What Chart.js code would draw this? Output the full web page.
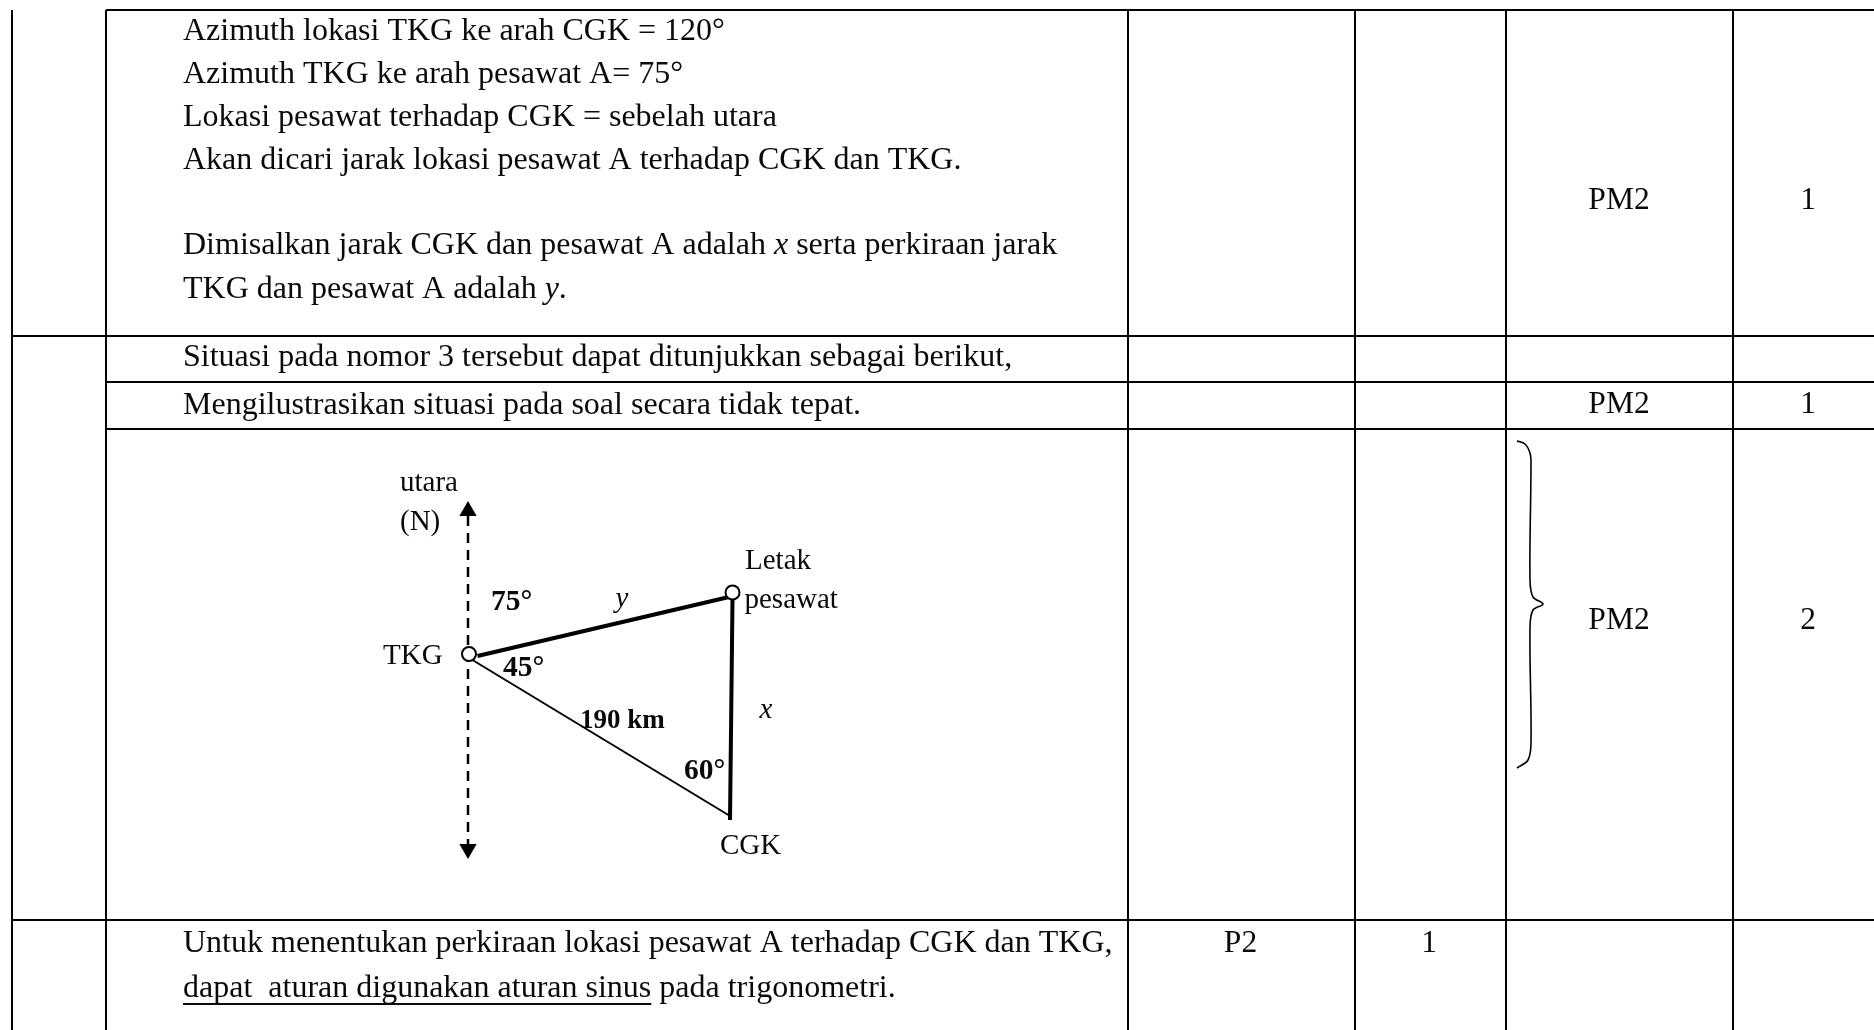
<!DOCTYPE html>
<html>
<head>
<meta charset="utf-8">
<style>html,body{margin:0;padding:0;background:#fff}canvas{display:block}</style>
<script src="https://cdn.jsdelivr.net/npm/chart.js@4/dist/chart.umd.min.js"></script>
</head>
<body>
<canvas id="c" width="1874" height="1030"></canvas>
<script>
// Table rules
const ruleColumns = [12, 106, 1128, 1355, 1506, 1733];
const ruleRows = [10, 336, 382, 429, 920];
// Body text (runs between underscores are italic, between ~ are underlined)
const bodyTexts = [
  "Azimuth lokasi TKG ke arah CGK = 120°",
  "Azimuth TKG ke arah pesawat A= 75°",
  "Lokasi pesawat terhadap CGK = sebelah utara",
  "Akan dicari jarak lokasi pesawat A terhadap CGK dan TKG.",
  "Dimisalkan jarak CGK dan pesawat A adalah _x_ serta perkiraan jarak",
  "TKG dan pesawat A adalah _y_.",
  "Situasi pada nomor 3 tersebut dapat ditunjukkan sebagai berikut,",
  "Mengilustrasikan situasi pada soal secara tidak tepat.",
  "Untuk menentukan perkiraan lokasi pesawat A terhadap CGK dan TKG,",
  "~dapat  aturan digunakan aturan sinus~ pada trigonometri."
];
const bodyBaselines = [40, 83, 126, 169, 254, 298, 366, 414, 952, 997];
const bodyLeft = 183;
// Score columns
const scoreTexts = ["PM2", "1", "PM2", "1", "PM2", "2", "P2", "1"];
const scoreCentres = [1619, 1808, 1619, 1808, 1619, 1808, 1240.5, 1429];
const scoreBaselines = [209, 209, 413, 413, 629, 629, 952, 952];
// Diagram
const northAxisX = [468, 468];
const northAxisY = [516, 844];
const arrowX = [468, 468];
const arrowY = [511, 849];
const arrowTurn = [0, 180];
const stationX = [469, 732.5];
const stationY = [654, 592.5];
const sideYX = [477.5, 729];
const sideYY = [656, 597];
const sideXX = [732.5, 730];
const sideXY = [599, 820];
const sideBaseX = [472.5, 730];
const sideBaseY = [660, 816];
const braceX = [1517, 1525, 1530, 1531, 1530, 1533, 1543, 1533, 1530, 1531, 1528, 1517];
const braceY = [441, 444, 453, 463, 580, 597, 604, 610, 627, 743, 760, 768];
const diagramTexts = ["utara", "(N)", "Letak", "pesawat", "TKG", "CGK"];
const diagramTextX = [400, 400, 745, 744.5, 383, 720];
const diagramTextY = [491, 530, 569, 608, 664, 854];
const italicTexts = ["y", "x"];
const italicTextX = [615.5, 759.5];
const italicTextY = [607, 718];
const degreeTexts = ["75°", "45°", "60°"];
const degreeTextX = [491, 503, 684];
const degreeTextY = [610, 676, 779];
const distanceText = "190 km";
const distanceTextX = 580;
const distanceTextY = 728;

const zip = (xs, ys) => xs.map((x, i) => ({x, y: ys[i]}));
const line = (xs, ys, w, extra) => Object.assign({
  data: zip(xs, ys), showLine: true, borderColor: '#000', borderWidth: w,
  pointRadius: 0, fill: false, tension: 0
}, extra || {});
const W = 1874, H = 1030, ink = '#0a0a0a';

const ruleDatasets = [];
ruleColumns.forEach(c => ruleDatasets.push(line([c, c], [ruleRows[0], H], 2)));
ruleRows.forEach((r, i) => {
  const from = (i === 1 || i === 4) ? ruleColumns[0] : ruleColumns[1];
  ruleDatasets.push(line([from, W], [r, r], 2));
});

const textPlugin = {
  id: 'pageText',
  afterDatasetsDraw(chart) {
    const {ctx, scales: {x, y}} = chart;
    const serif = '"Liberation Serif", serif';
    ctx.save();
    ctx.fillStyle = ink;
    ctx.textBaseline = 'alphabetic';
    // body
    ctx.textAlign = 'left';
    bodyTexts.forEach((t, i) => {
      let px = x.getPixelForValue(bodyLeft);
      const py = y.getPixelForValue(bodyBaselines[i]);
      t.split(/(_[^_]+_|~[^~]+~)/).filter(Boolean).forEach(part => {
        const it = part[0] === '_', un = part[0] === '~';
        const s = (it || un) ? part.slice(1, -1) : part;
        ctx.font = (it ? 'italic ' : '') + '32px ' + serif;
        ctx.fillText(s, px, py);
        const w = ctx.measureText(s).width;
        if (un) { ctx.fillRect(px, py + 6, w, 2); }
        px += w;
      });
    });
    // scores
    ctx.font = '31.5px ' + serif;
    ctx.textAlign = 'center';
    scoreTexts.forEach((t, i) => ctx.fillText(t, x.getPixelForValue(scoreCentres[i]), y.getPixelForValue(scoreBaselines[i])));
    // diagram
    ctx.textAlign = 'left';
    ctx.font = '29px ' + serif;
    diagramTexts.forEach((t, i) => ctx.fillText(t, x.getPixelForValue(diagramTextX[i]), y.getPixelForValue(diagramTextY[i])));
    ctx.font = 'italic 29px ' + serif;
    italicTexts.forEach((t, i) => ctx.fillText(t, x.getPixelForValue(italicTextX[i]), y.getPixelForValue(italicTextY[i])));
    ctx.font = 'bold 29.5px ' + serif;
    degreeTexts.forEach((t, i) => ctx.fillText(t, x.getPixelForValue(degreeTextX[i]), y.getPixelForValue(degreeTextY[i])));
    ctx.font = 'bold 27px ' + serif;
    ctx.fillText(distanceText, x.getPixelForValue(distanceTextX), y.getPixelForValue(distanceTextY));
    ctx.restore();
  }
};

new Chart(document.getElementById('c'), {
  type: 'scatter',
  data: {
    datasets: [
      {data: zip(stationX, stationY), pointStyle: 'circle', pointRadius: 7, borderWidth: 2, borderColor: '#000', backgroundColor: '#fff', showLine: false},
      {data: zip(arrowX, arrowY), pointStyle: 'triangle', pointRadius: 10, pointRotation: arrowTurn, borderWidth: 0, backgroundColor: '#000', showLine: false},
      line(sideYX, sideYY, 4),
      line(sideXX, sideXY, 4),
      line(sideBaseX, sideBaseY, 2),
      line(northAxisX, northAxisY, 2.5, {borderDash: [10, 7]}),
      line(braceX, braceY, 1.6, {tension: 0.35}),
      ...ruleDatasets
    ]
  },
  options: {
    responsive: false,
    animation: false,
    events: [],
    layout: {padding: 0, autoPadding: false},
    plugins: {legend: {display: false}, tooltip: {enabled: false}, title: {display: false}},
    scales: {
      x: {type: 'linear', display: false, min: 0, max: W},
      y: {type: 'linear', display: false, min: 0, max: H, reverse: true}
    }
  },
  plugins: [textPlugin]
});
</script>
</body>
</html>
